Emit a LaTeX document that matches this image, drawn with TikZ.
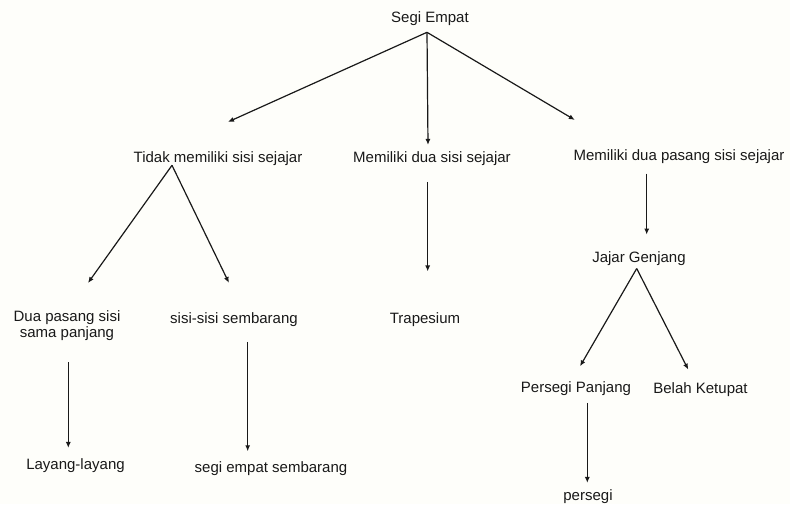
\documentclass[tikz,border=0pt]{standalone}
\usepackage{fontspec}
\setmainfont{Liberation Sans}
\usetikzlibrary{arrows.meta}
\definecolor{paper}{RGB}{254,254,250}
\definecolor{ink}{RGB}{25,25,25}

\begin{document}
\begin{tikzpicture}[x=1pt,y=-1pt,
        lbl/.style={anchor=base,inner sep=0pt,text=ink,font=\fontsize{15}{16.6}\selectfont},
        arr/.style={draw=ink,line width=1.2pt,-{Latex[length=6pt,width=5pt]}}]

    \fill[paper] (0,0) rectangle (790,504);
    \useasboundingbox (0,0) rectangle (790,504);

    % Root
    \node[lbl] (segi) at (430,22) {Segi Empat};

    % First level
    \node[lbl] (tidak) at (218,162) {Tidak memiliki sisi sejajar};
    \node[lbl] (dua) at (432,162) {Memiliki dua sisi sejajar};
    \node[lbl] (pasang) at (679,160) {Memiliki dua pasang sisi sejajar};

    % Under "tidak"
    \node[lbl,anchor=north,align=center] (duapasang) at (67,310) {Dua pasang sisi\\sama panjang};
    \node[lbl] (sembarang) at (234,323) {sisi-sisi sembarang};
    \node[lbl] (layang) at (75.5,469) {Layang-layang};
    \node[lbl] (segiempat) at (271,472) {segi empat sembarang};

    % Under "dua"
    \node[lbl] (trapesium) at (425,323) {Trapesium};

    % Under "pasang"
    \node[lbl] (jajar) at (639,262) {Jajar Genjang};
    \node[lbl] (persegipanjang) at (576,392) {Persegi Panjang};
    \node[lbl] (belah) at (700.5,393) {Belah Ketupat};
    \node[lbl] (persegi) at (588,500) {persegi};

    % Edges from the root
    \draw[arr] ([xshift=-3pt,yshift=-7pt]segi.south) -- ([xshift=10pt,yshift=29pt]tidak.north);
    \draw[arr] ([xshift=-3pt,yshift=-7pt]segi.south) -- ([xshift=-4pt,yshift=6pt]dua.north);
    \draw[arr] ([xshift=-3pt,yshift=-7pt]segi.south) -- ([xshift=1.5pt,yshift=29pt]pasang.north west);

    % Edges in the "tidak" branch
    \draw[arr] ([xshift=-46pt]tidak.south) -- ([xshift=21pt,yshift=27pt]duapasang.north);
    \draw[arr] ([xshift=-46pt]tidak.south) -- ([xshift=-5pt,yshift=29pt]sembarang.north);
    \draw[arr] ([xshift=1.3pt,yshift=-21.3pt]duapasang.south) -- ([xshift=-7.2pt,yshift=10pt]layang.north);
    \draw[arr] ([xshift=13.7pt,yshift=-15.5pt]sembarang.south) -- ([xshift=-23.3pt,yshift=9.6pt]segiempat.north);

    % Edge in the "dua" branch
    \draw[arr] ([xshift=-4.3pt,yshift=-16.5pt]dua.south) -- ([xshift=2.7pt,yshift=40.5pt]trapesium.north);

    % Edges in the "pasang" branch
    \draw[arr] ([xshift=-32.3pt,yshift=-10.2pt]pasang.south) -- ([xshift=7.7pt,yshift=16.3pt]jajar.north);
    \draw[arr] ([xshift=-2.3pt,yshift=-3.2pt]jajar.south) -- ([xshift=4pt,yshift=14.6pt]persegipanjang.north);
    \draw[arr] ([xshift=-2.3pt,yshift=-3.2pt]jajar.south) -- ([xshift=-12.2pt,yshift=12.3pt]belah.north);
    \draw[arr] ([xshift=11.3pt,yshift=-7.5pt]persegipanjang.south) -- ([xshift=-0.7pt,yshift=6pt]persegi.north);
\end{tikzpicture}
\end{document}
